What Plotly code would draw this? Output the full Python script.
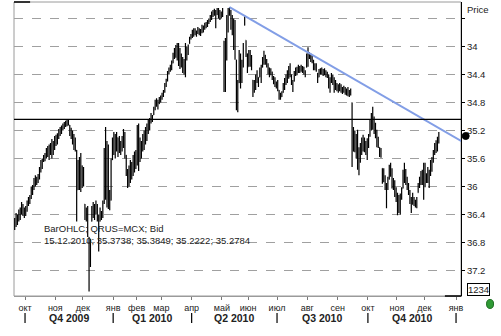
import pandas as pd
import plotly.graph_objects as go

# ---------------- data ----------------
start_date = "2009-09-21"
holidays = ["2009-11-04", "2009-12-31", "2010-01-01", "2010-01-05", "2010-01-06",
            "2010-01-07", "2010-02-22", "2010-02-23", "2010-03-08", "2010-05-03",
            "2010-05-10", "2010-06-14", "2010-11-04", "2010-11-05"]

low = [
    36.45, 36.38, 36.40, 36.33, 36.30, 36.22, 36.25, 36.30, 36.28, 36.20,
    36.15, 36.12, 36.00, 35.98, 35.88, 35.84, 35.86, 35.82, 35.72, 35.62,
    35.60, 35.55, 35.52, 35.45, 35.42, 35.40, 35.38, 35.32, 35.35, 35.28,
    35.26, 35.24, 35.18, 35.15, 35.13, 35.10, 35.08, 35.06, 35.04, 35.05,
    35.12, 35.16, 35.20, 35.25, 35.30, 35.48, 35.62, 35.58, 35.52, 35.70,
    35.72, 36.25, 36.30, 36.28, 36.72, 36.75, 36.28, 36.22, 36.25, 36.20,
    36.25, 36.40, 36.30, 36.35, 36.20, 35.45, 35.15, 35.35, 35.40, 36.05,
    35.60, 35.30, 35.22, 35.25, 35.22, 35.30, 35.28, 35.35, 35.28, 35.18,
    35.22, 35.55, 35.75, 35.70, 35.62, 35.65, 35.55, 35.50, 35.48, 35.12,
    35.10, 35.30, 35.35, 35.25, 35.20, 35.15, 35.10, 35.05, 35.02, 34.95,
    34.98, 34.86, 34.76, 34.74, 34.76, 34.72, 34.70, 34.66, 34.62, 34.52,
    34.46, 34.35, 34.30, 34.26, 34.20, 34.09, 34.02, 33.98, 33.95, 33.95,
    34.02, 34.10, 34.15, 34.18, 33.95, 34.00, 33.97, 33.86, 33.82, 33.76,
    33.74, 33.74, 33.77, 33.72, 33.74, 33.75, 33.69, 33.70, 33.66, 33.65,
    33.62, 33.60, 33.55, 33.50, 33.48, 33.46, 33.48, 33.45, 33.45, 33.48,
    33.50, 33.45, 33.92, 33.88, 33.55, 33.45, 33.44, 33.48, 33.55, 33.60,
    33.62, 34.19, 34.48, 34.05, 34.10, 34.19, 33.95, 33.56, 33.91, 34.10,
    34.05, 34.05, 34.12, 34.48, 34.48, 34.40, 34.34, 34.44, 34.30, 34.26,
    34.15, 34.06, 34.12, 34.18, 34.24, 34.30, 34.31, 34.36, 34.42, 34.44,
    34.50, 34.48, 34.62, 34.66, 34.64, 34.52, 34.45, 34.40, 34.34, 34.28,
    34.24, 34.40, 34.48, 34.35, 34.30, 34.29, 34.26, 34.28, 34.26, 34.28,
    34.29, 34.34, 34.10, 34.01, 34.08, 34.10, 34.12, 34.19, 34.24, 34.24,
    34.38, 34.32, 34.31, 34.30, 34.32, 34.31, 34.34, 34.36, 34.40, 34.44,
    34.38, 34.40, 34.44, 34.48, 34.52, 34.54, 34.52, 34.54, 34.58, 34.56,
    34.58, 34.60, 34.58, 34.62, 34.60, 34.80, 35.15, 35.20, 35.25, 35.19,
    35.44, 35.38, 35.30, 35.26, 35.30, 35.35, 35.31, 35.25, 35.05, 34.95,
    34.86, 35.00, 35.09, 35.19, 35.29, 35.44, 35.45, 35.74, 35.74, 35.84,
    35.95, 35.86, 35.69, 35.66, 35.74, 35.88, 35.91, 36.01, 36.09, 36.12,
    36.10, 36.01, 35.76, 35.66, 35.75, 35.86, 35.95, 36.05, 36.15, 36.09,
    36.15, 36.19, 36.15, 35.95, 35.86, 35.78, 35.76, 35.66, 35.66, 35.81,
    35.72, 35.76, 35.62, 35.58, 35.48, 35.38, 35.34, 35.29, 35.2222,
]

high = [
    36.62, 36.58, 36.55, 36.50, 36.48, 36.40, 36.42, 36.45, 36.42, 36.36,
    36.28, 36.25, 36.18, 36.12, 36.05, 36.00, 35.98, 35.95, 35.90, 35.80,
    35.75, 35.65, 35.64, 35.60, 35.58, 35.62, 35.55, 35.60, 35.55, 35.48,
    35.42, 35.40, 35.32, 35.28, 35.25, 35.20, 35.18, 35.15, 35.14, 35.13,
    35.28, 35.32, 35.40, 35.48, 35.50, 36.50, 36.05, 36.05, 36.08, 36.02,
    36.00, 36.48, 36.50, 36.72, 37.50, 37.15, 36.50, 36.45, 36.48, 36.40,
    36.50, 36.93, 36.50, 36.48, 36.45, 36.25, 36.19, 36.30, 36.32, 36.34,
    36.20, 35.62, 35.55, 35.60, 35.50, 35.58, 35.52, 35.55, 35.50, 35.45,
    35.60, 35.85, 36.02, 36.00, 35.95, 35.90, 35.85, 35.80, 35.75, 35.70,
    35.78, 35.65, 35.60, 35.50, 35.48, 35.40, 35.35, 35.25, 35.20, 35.10,
    35.08, 34.98, 34.91, 34.86, 34.90, 34.82, 34.80, 34.76, 34.72, 34.66,
    34.58, 34.50, 34.40, 34.36, 34.34, 34.24, 34.18, 34.16, 34.20, 34.28,
    34.32, 34.30, 34.38, 34.40, 34.44, 34.20, 34.12, 33.96, 33.90, 33.88,
    33.86, 33.84, 33.86, 33.82, 33.84, 33.85, 33.81, 33.80, 33.76, 33.74,
    33.72, 33.68, 33.65, 33.62, 33.58, 33.56, 33.74, 33.55, 33.60, 33.62,
    33.60, 33.58, 34.65, 34.65, 34.20, 33.80, 33.56, 33.76, 33.84, 34.05,
    34.19, 34.91, 34.94, 34.52, 34.60, 34.52, 34.30, 33.70, 34.15, 34.38,
    34.29, 34.29, 34.34, 34.72, 34.66, 34.62, 34.52, 34.58, 34.44, 34.52,
    34.30, 34.26, 34.26, 34.30, 34.40, 34.44, 34.41, 34.48, 34.54, 34.58,
    34.60, 34.64, 34.76, 34.76, 34.72, 34.66, 34.62, 34.55, 34.52, 34.46,
    34.44, 34.55, 34.65, 34.50, 34.42, 34.41, 34.38, 34.38, 34.36, 34.38,
    34.40, 34.44, 34.30, 34.29, 34.18, 34.22, 34.24, 34.34, 34.34, 34.36,
    34.52, 34.44, 34.40, 34.40, 34.42, 34.41, 34.44, 34.45, 34.60, 34.66,
    34.52, 34.55, 34.66, 34.62, 34.64, 34.66, 34.64, 34.66, 34.68, 34.66,
    34.69, 34.70, 34.71, 34.72, 34.70, 35.72, 35.50, 35.51, 35.60, 35.76,
    35.84, 35.66, 35.55, 35.50, 35.51, 35.55, 35.62, 35.45, 35.29, 35.20,
    35.19, 35.25, 35.31, 35.44, 35.45, 35.58, 35.59, 35.96, 35.94, 36.05,
    36.31, 36.05, 35.90, 35.86, 36.03, 36.05, 36.15, 36.22, 36.41, 36.38,
    36.40, 36.19, 36.03, 35.95, 35.98, 36.05, 36.12, 36.25, 36.38, 36.26,
    36.28, 36.30, 36.31, 36.09, 36.02, 35.98, 35.98, 36.19, 36.01, 35.95,
    35.95, 36.02, 35.85, 35.79, 35.66, 35.55, 35.52, 35.50, 35.3849,
]

close = [
    36.50, 36.44, 36.46, 36.38, 36.35, 36.28, 36.36, 36.34, 36.30, 36.24,
    36.18, 36.14, 36.04, 36.02, 35.92, 35.90, 35.88, 35.86, 35.76, 35.66,
    35.64, 35.58, 35.56, 35.48, 35.46, 35.50, 35.42, 35.40, 35.38, 35.32,
    35.30, 35.27, 35.22, 35.18, 35.16, 35.13, 35.11, 35.09, 35.08, 35.10,
    35.22, 35.26, 35.34, 35.40, 35.46, 36.10, 35.80, 35.95, 35.70, 35.90,
    35.96, 36.40, 36.36, 36.60, 37.00, 36.90, 36.35, 36.30, 36.40, 36.26,
    36.42, 36.55, 36.36, 36.40, 36.24, 35.60, 35.40, 35.90, 36.10, 36.20,
    35.70, 35.40, 35.30, 35.45, 35.30, 35.44, 35.36, 35.40, 35.32, 35.28,
    35.55, 35.78, 35.90, 35.80, 35.72, 35.76, 35.62, 35.58, 35.52, 35.30,
    35.50, 35.40, 35.38, 35.30, 35.26, 35.20, 35.14, 35.08, 35.06, 35.00,
    35.02, 34.90, 34.80, 34.80, 34.82, 34.75, 34.72, 34.68, 34.64, 34.55,
    34.48, 34.38, 34.33, 34.28, 34.24, 34.12, 34.06, 34.02, 34.10, 34.20,
    34.25, 34.18, 34.30, 34.22, 34.00, 34.08, 34.00, 33.88, 33.84, 33.80,
    33.78, 33.80, 33.79, 33.75, 33.78, 33.76, 33.72, 33.73, 33.68, 33.67,
    33.64, 33.62, 33.57, 33.53, 33.50, 33.52, 33.55, 33.48, 33.50, 33.56,
    33.52, 33.55, 34.40, 34.10, 33.70, 33.50, 33.50, 33.70, 33.78, 33.95,
    34.10, 34.70, 34.60, 34.20, 34.40, 34.25, 34.00, 33.65, 34.05, 34.30,
    34.15, 34.20, 34.30, 34.60, 34.55, 34.45, 34.40, 34.50, 34.35, 34.30,
    34.20, 34.12, 34.20, 34.25, 34.35, 34.38, 34.36, 34.44, 34.50, 34.52,
    34.56, 34.60, 34.70, 34.72, 34.66, 34.56, 34.50, 34.44, 34.38, 34.32,
    34.40, 34.50, 34.52, 34.40, 34.34, 34.36, 34.30, 34.34, 34.32, 34.35,
    34.38, 34.40, 34.14, 34.10, 34.12, 34.18, 34.20, 34.28, 34.30, 34.32,
    34.45, 34.36, 34.34, 34.36, 34.38, 34.36, 34.40, 34.42, 34.55, 34.50,
    34.46, 34.52, 34.60, 34.55, 34.60, 34.58, 34.62, 34.60, 34.64, 34.60,
    34.66, 34.64, 34.68, 34.66, 34.68, 35.50, 35.30, 35.40, 35.50, 35.70,
    35.55, 35.45, 35.35, 35.40, 35.45, 35.40, 35.35, 35.28, 35.10, 35.00,
    35.05, 35.20, 35.25, 35.38, 35.40, 35.50, 35.55, 35.85, 35.90, 36.00,
    36.00, 35.90, 35.75, 35.80, 35.95, 36.00, 36.10, 36.15, 36.30, 36.20,
    36.15, 36.05, 35.82, 35.80, 35.90, 36.00, 36.08, 36.20, 36.22, 36.18,
    36.22, 36.24, 36.18, 36.00, 35.90, 35.85, 35.80, 35.90, 35.85, 35.88,
    35.78, 35.80, 35.68, 35.62, 35.52, 35.42, 35.40, 35.3738, 35.2784,
]

month_labels = ["окт", "ноя", "дек", "янв", "фев", "мар", "апр", "май",
                "июн", "июл", "авг", "сен", "окт", "ноя", "дек", "янв"]
quarter_labels = ["Q4 2009", "Q1 2010", "Q2 2010", "Q3 2010", "Q4 2010"]
price_ticks = [33.6, 34.0, 34.4, 34.8, 35.2, 35.6, 36.0, 36.4, 36.8, 37.2]
price_labels = ["", "34", "34.4", "34.8", "35.2", "35.6", "36", "36.4", "36.8", "37.2"]
level_line = 35.04
trend_start_bar = 156
trend_start_price = 33.436
trend_end_bar = 329.2
trend_end_price = 35.407
instrument_text = "BarOHLC; QRUS=MCX; Bid"

# ---------------- build ----------------
cal = pd.bdate_range(start_date, "2011-01-31")
cal = cal[~cal.isin(pd.to_datetime(holidays))]
n = len(close)
idx = list(range(n))
opens = [close[0]] + close[:-1]
opens = [min(max(o, lo), hi) for o, lo, hi in zip(opens, low, high)]

# month starts (first trading day of each month from Oct 2009)
month_pos = []
prev = None
for k, d in enumerate(cal):
    key = (d.year, d.month)
    if key != prev:
        if k > 0:
            month_pos.append(k - 0.5)
        prev = key
month_pos = month_pos[:len(month_labels)]
quarter_pos = month_pos[0::3][:6]

fig = go.Figure()
fig.add_trace(go.Ohlc(
    x=idx, open=opens, high=high, low=low, close=close,
    increasing=dict(line=dict(color="black", width=1.2)),
    decreasing=dict(line=dict(color="black", width=1.2)),
    tickwidth=0.2, hoverinfo="skip", showlegend=False,
))
fig.add_trace(go.Scatter(
    x=[trend_start_bar, trend_end_bar], y=[trend_start_price, trend_end_price],
    mode="lines", line=dict(color="#829ee6", width=2), hoverinfo="skip", showlegend=False,
))

FONT = "Liberation Sans, Arial, sans-serif"
dot_r = 0.05  # half-height of the last-price marker in price units
shapes = [
    dict(type="rect", xref="paper", yref="paper", x0=0, x1=1, y0=0, y1=1,
         line=dict(color="#9a9a9a", width=1), layer="below"),
    dict(type="line", xref="paper", yref="y", x0=0, x1=1, y0=level_line, y1=level_line,
         line=dict(color="black", width=1.2)),
    # last price marker on the right scale
    dict(type="circle", xref="paper", yref="y", x0=1.0027, x1=1.0183,
         y0=close[-1] - dot_r, y1=close[-1] + dot_r,
         fillcolor="black", line=dict(color="black", width=1)),
    # small green status light, bottom right
    dict(type="circle", xref="paper", yref="paper",
         xsizemode="pixel", ysizemode="pixel", xanchor=1.065, yanchor=-0.027,
         x0=-3.5, x1=3.5, y0=-4.5, y1=4.5,
         fillcolor="#2f9a35", line=dict(color="#1e6e22", width=1)),
    # short dark frame segments (top-left, bottom-right)
    dict(type="line", xref="paper", yref="paper", x0=0, x1=0.036, y0=1, y1=1,
         line=dict(color="black", width=1.5)),
    dict(type="line", xref="paper", yref="paper", x0=0.964, x1=1, y0=0, y1=0,
         line=dict(color="black", width=1.5)),
]
for q in quarter_pos:
    shapes.append(dict(type="line", xref="x", yref="paper", x0=q, x1=q, y0=-0.058, y1=-0.092,
                       line=dict(color="black", width=1.2)))

annotations = [
    dict(text="Price", xref="paper", yref="paper", x=1.009, y=0.973, xanchor="left",
         yanchor="middle", showarrow=False, font=dict(size=9.5, color="#222", family=FONT)),
    dict(text="1234", xref="paper", yref="paper", x=1.040, y=0.022, xanchor="center",
         yanchor="middle", showarrow=False, bordercolor="black", borderwidth=1, borderpad=0,
         bgcolor="white", font=dict(size=9.5, color="#222", family=FONT)),
    dict(text=instrument_text, xref="paper", yref="paper", x=0.0626, y=0.2296, xanchor="left",
         yanchor="middle", showarrow=False, font=dict(size=9.5, color="#222", family=FONT)),
    dict(text="%s; %s; %s; %s; %s" % (cal[n - 1].strftime("%d.%m.%Y"), opens[-1], high[-1], low[-1], close[-1]),
         xref="paper", yref="paper", x=0.0626, y=0.1888, xanchor="left",
         yanchor="middle", showarrow=False, font=dict(size=9.5, color="#222", family=FONT)),
]
for k, lab in enumerate(quarter_labels):
    annotations.append(dict(text="<b>%s</b>" % lab, xref="x", yref="paper",
                            x=(quarter_pos[k] + quarter_pos[k + 1]) / 2, y=-0.075,
                            xanchor="center", yanchor="middle", showarrow=False,
                            font=dict(size=10.5, color="#222", family=FONT)))

fig.update_layout(
    width=501, height=336, margin=dict(l=14, r=40, t=2, b=40),
    paper_bgcolor="white", plot_bgcolor="white",
    font=dict(family=FONT, size=9, color="#222"),
    showlegend=False, shapes=shapes, annotations=annotations,
    xaxis=dict(range=[-0.51, 324.1], tickvals=month_pos, ticktext=month_labels,
               showgrid=False, zeroline=False, ticks="outside", ticklen=3, tickcolor="#777",
               showline=True, linecolor="#9a9a9a", automargin=False,
               rangeslider=dict(visible=False), tickfont=dict(size=9, color="#222")),
    yaxis=dict(side="right", range=[37.564, 33.364], tickvals=price_ticks, ticktext=price_labels,
               showgrid=True, gridcolor="#a0a0a0", griddash="dash", gridwidth=1,
               zeroline=False, ticks="outside", ticklen=3, tickcolor="black",
               showline=True, linecolor="black", linewidth=1, automargin=False,
               tickfont=dict(size=9.5, color="#222")),
)
fig.write_html("out.html")
